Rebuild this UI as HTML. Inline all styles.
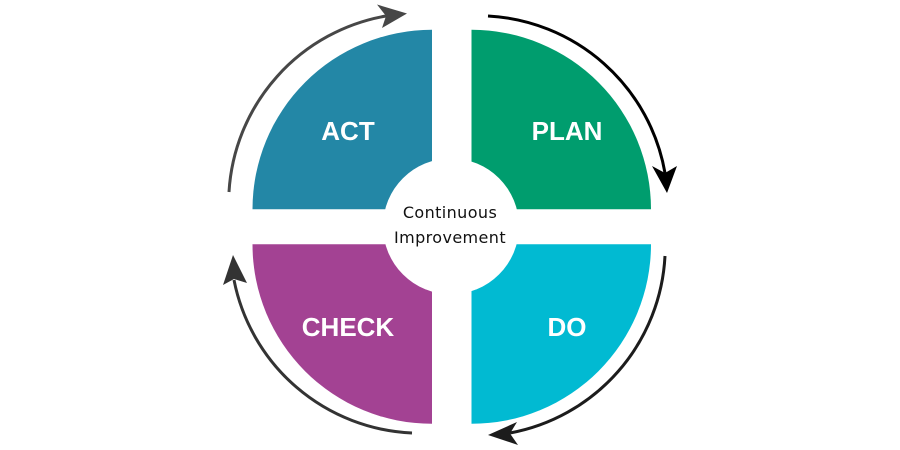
<!DOCTYPE html>
<html>
<head>
<meta charset="utf-8">
<style>
  html, body { margin: 0; padding: 0; background: #ffffff; }
  body { width: 900px; height: 450px; overflow: hidden; }
  svg { display: block; }
</style>
</head>
<body>
<svg width="900" height="450" viewBox="0 0 900 450" xmlns="http://www.w3.org/2000/svg">
  <rect width="900" height="450" fill="#ffffff"/>

  <!-- Quarters -->
  <path d="M432,209.3 L252.5,209.3 A179.5,179.5 0 0 1 432,29.8 Z" fill="#2387A6"/>
  <path d="M471.5,209.3 L471.5,29.8 A179.5,179.5 0 0 1 651,209.3 Z" fill="#009D6E"/>
  <path d="M471.5,244.3 L651,244.3 A179.5,179.5 0 0 1 471.5,423.8 Z" fill="#01BAD2"/>
  <path d="M432,244.3 L432,423.8 A179.5,179.5 0 0 1 252.5,244.3 Z" fill="#A34293"/>

  <!-- Center circle -->
  <circle cx="451" cy="226.3" r="68" fill="#ffffff"/>

  <!-- Arrows -->
  <path d="M229,192 A190,190 0 0 1 386,16" fill="none" stroke="#474747" stroke-width="3"/>
  <polygon points="407,13.5 377,4.5 386,16 382,28" fill="#474747"/>

  <path d="M488,16 A190,190 0 0 1 665,173" fill="none" stroke="#000000" stroke-width="3"/>
  <polygon points="667,193 652,166 665,173 677,166" fill="#000000"/>

  <path d="M665,256 A190,190 0 0 1 510,433" fill="none" stroke="#1c1c1c" stroke-width="3"/>
  <polygon points="488,435 517,422 510,433.5 518,445" fill="#1c1c1c"/>

  <path d="M412,433 A190,190 0 0 1 234,280" fill="none" stroke="#333333" stroke-width="3"/>
  <polygon points="233,255 223,285 234,279 247,283" fill="#333333"/>

  <!-- Labels -->
  <g font-family="'Liberation Sans', Arial, sans-serif" font-weight="bold" font-size="26" fill="#ffffff" text-anchor="middle">
    <text x="348" y="140">ACT</text>
    <text x="567" y="140">PLAN</text>
    <text x="348" y="336">CHECK</text>
    <text x="567" y="336">DO</text>
  </g>

  <g font-family="'DejaVu Sans', 'Liberation Sans', sans-serif" font-size="16" fill="#111111" text-anchor="middle" letter-spacing="0.4">
    <text x="450" y="218">Continuous</text>
    <text x="450" y="243">Improvement</text>
  </g>
</svg>
</body>
</html>
